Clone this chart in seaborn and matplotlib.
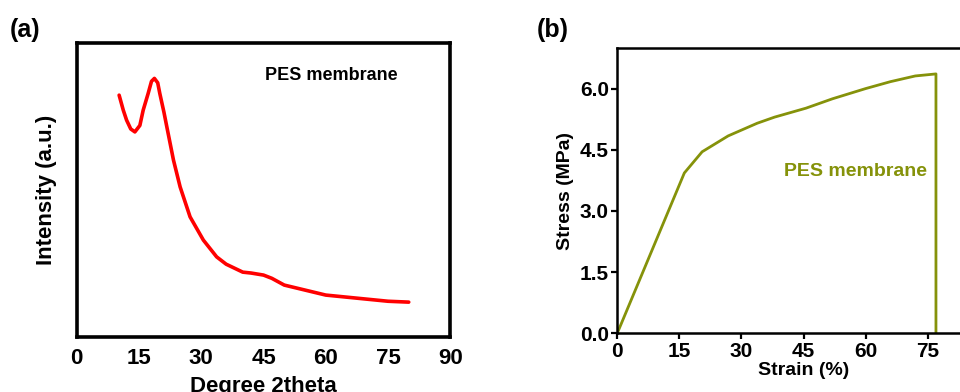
import pandas as pd
import matplotlib
matplotlib.use("Agg")
import matplotlib.pyplot as plt
import seaborn as sns

# (a) XRD pattern
two_theta = [10.2, 11.2, 12, 13, 14, 15.2, 16, 17.2, 18, 18.7, 19.5, 20, 21, 21.7,
             23.3, 24.9, 27.3, 30.5, 33.7, 36, 40, 42, 45, 47, 50, 55, 60, 65, 70, 75, 80]
intensity = [82.3, 77.2, 73.8, 70.8, 69.8, 72, 77.2, 82.9, 87, 88, 86.5, 82.9, 76.5, 71.5,
             60.2, 51.1, 40.9, 33, 27.3, 24.8, 22.1, 21.8, 21.1, 20, 17.7, 16, 14.3, 13.6, 12.9, 12.2, 11.9]

# (b) stress-strain curve
strain = [0, 16.2, 20.5, 26.8, 33.8, 38, 45.6, 52, 60, 66, 72, 77, 77]
stress = [0, 3.93, 4.45, 4.84, 5.15, 5.3, 5.52, 5.75, 6.0, 6.17, 6.31, 6.36, 0]

xrd = pd.DataFrame({"two_theta": two_theta, "intensity": intensity})
mech = pd.DataFrame({"strain": strain, "stress": stress})

sns.set_style("white")
plt.rcParams["font.family"] = ["Liberation Sans", "DejaVu Sans"]
plt.rcParams["font.weight"] = "bold"
plt.rcParams["text.color"] = "black"
plt.rcParams["axes.labelcolor"] = "black"
plt.rcParams["xtick.color"] = "black"
plt.rcParams["ytick.color"] = "black"

olive = "#85920a"

fig = plt.figure(figsize=(9.6, 3.92), dpi=100)
ax1 = fig.add_axes([0.080, 0.140, 0.389, 0.750])
ax2 = fig.add_axes([0.643, 0.150, 0.388, 0.728])

# panel (a)
sns.lineplot(data=xrd, x="two_theta", y="intensity", ax=ax1, color="red",
             linewidth=2.6, sort=False, estimator=None)
ax1.set_xlim(0, 90)
ax1.set_ylim(0, 100)
ax1.set_xticks([0, 15, 30, 45, 60, 75, 90])
ax1.set_yticks([])
ax1.tick_params(axis="x", length=0, labelsize=16, pad=8)
ax1.set_xlabel("Degree 2theta", fontsize=16, fontweight="bold", labelpad=5)
ax1.set_ylabel("Intensity (a.u.)", fontsize=16, fontweight="bold", labelpad=14)
for s in ax1.spines.values():
    s.set_visible(True)
    s.set_linewidth(2.6)
    s.set_color("black")
ax1.text(0.681, 0.891, "PES membrane", transform=ax1.transAxes, ha="center",
         va="center", fontsize=13, fontweight="bold")

# panel (b)
sns.lineplot(data=mech, x="strain", y="stress", ax=ax2, color=olive,
             linewidth=2.0, sort=False, estimator=None)
ax2.set_xlim(0, 90)
ax2.set_ylim(0, 7)
ax2.set_xticks([0, 15, 30, 45, 60, 75])
ax2.set_yticks([0, 1.5, 3.0, 4.5, 6.0])
ax2.set_yticklabels(["0.0", "1.5", "3.0", "4.5", "6.0"])
ax2.tick_params(axis="both", direction="out", length=4, width=1.6,
                labelsize=15, left=True, bottom=True, pad=2)
ax2.set_xlabel("Strain (%)", fontsize=14, fontweight="bold", labelpad=1)
ax2.set_ylabel("Stress (MPa)", fontsize=14, fontweight="bold", labelpad=4)
for s in ax2.spines.values():
    s.set_visible(True)
    s.set_linewidth(1.8)
    s.set_color("black")
ax2.text(57.5, 3.97, "PES membrane", ha="center", va="center", fontsize=14,
         fontweight="bold", color=olive)

fig.text(0.010, 0.923, "(a)", fontsize=18, fontweight="bold", va="center")
fig.text(0.559, 0.923, "(b)", fontsize=18, fontweight="bold", va="center")

fig.savefig("out.png", dpi=100)
